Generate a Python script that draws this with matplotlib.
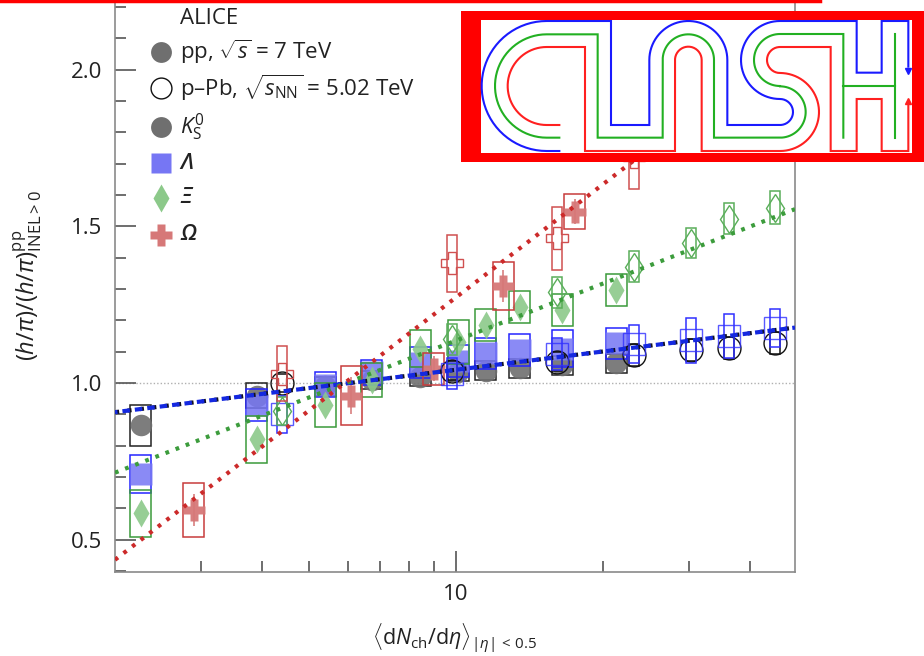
import numpy as np
import matplotlib
matplotlib.use('Agg')
import matplotlib.pyplot as plt
from matplotlib.patches import Rectangle
from matplotlib.transforms import IdentityTransform
from matplotlib.ticker import FixedLocator, NullFormatter, FixedFormatter

plt.rcParams['font.family'] = ['Open Sans', 'DejaVu Sans']
plt.rcParams['mathtext.fontset'] = 'custom'
plt.rcParams['mathtext.rm'] = 'Open Sans'
plt.rcParams['mathtext.it'] = 'Open Sans:italic'
plt.rcParams['mathtext.bf'] = 'Open Sans:bold'

# ---------------- data ----------------
x_pp = [2.26, 3.90, 5.40, 6.72, 8.45, 10.1, 11.5, 13.5, 16.5, 21.3]
x_ppb = [4.4, 9.8, 16.1, 23.2, 30.3, 36.2, 45.0]
x_omega_pp = [2.9, 6.1, 9.0, 12.5, 17.5]
x_omega_ppb = [4.4, 9.8, 16.1, 23.2]

k0s_pp = [0.865, 0.96, 0.99, 1.01, 1.02, 1.035, 1.04, 1.047, 1.057, 1.063]
k0s_pp_sys = [0.065, 0.04, 0.03, 0.03, 0.03, 0.03, 0.03, 0.03, 0.03, 0.03]
lam_pp = [0.71, 0.93, 0.995, 1.035, 1.065, 1.07, 1.095, 1.105, 1.11, 1.127]
lam_pp_sys = [0.06, 0.05, 0.04, 0.04, 0.05, 0.05, 0.05, 0.05, 0.06, 0.05]
xi_pp = [0.585, 0.82, 0.93, 1.01, 1.11, 1.13, 1.185, 1.243, 1.233, 1.297]
xi_pp_sys = [0.075, 0.075, 0.07, 0.055, 0.06, 0.07, 0.05, 0.05, 0.05, 0.05]
om_pp = [0.595, 0.96, 1.045, 1.31, 1.547]
om_pp_sys = [0.085, 0.093, 0.05, 0.077, 0.055]
om_pp_stat = [0.05, 0.06, 0.04, 0.05, 0.04]

k0s_ppb = [1.0, 1.04, 1.068, 1.09, 1.105, 1.112, 1.128]
k0s_ppb_sys = [0.03, 0.03, 0.03, 0.035, 0.035, 0.035, 0.035]
lam_ppb = [0.90, 1.03, 1.093, 1.124, 1.137, 1.151, 1.175]
lam_ppb_sys = [0.06, 0.05, 0.05, 0.06, 0.072, 0.07, 0.061]
xi_ppb = [0.91, 1.14, 1.29, 1.371, 1.446, 1.525, 1.56]
xi_ppb_sys = [0.045, 0.05, 0.05, 0.05, 0.048, 0.05, 0.053]
om_ppb = [1.03, 1.382, 1.462, 1.72]
om_ppb_sys = [0.088, 0.09, 0.1, 0.1]

fit_x = [2.0, 49.5]
fit_k0s = [0.907, 1.177]
fit_lam = [0.907, 1.177]
fit_xi = [0.714, 1.555]
fit_om = [0.436, 2.106]

legend_labels = ['pp, $\\sqrt{s}$ = 7 TeV',
                 'p\u2013Pb, $\\sqrt{s_{\\mathrm{NN}}}$ = 5.02 TeV',
                 '$K^0_{\\mathrm{S}}$', '\u039b', '\u039e', '\u03a9']
legend_italic = [False, False, False, True, True, True]

# ---------------- figure ----------------
W, H = 924, 656
fig = plt.figure(figsize=(W / 100, H / 100), dpi=100)
ax = fig.add_axes([115 / W, 84 / H, 680 / W, 572 / H])
ax.set_xscale('log')
ax.set_xlim(2.0, 49.5)
ax.set_ylim(0.397, 2.2225)

fill_c = {'k': '#6f6f6f', 'l': '#7676f4', 'x': '#8cc98a', 'o': '#d67878'}
edge_c = {'k': '#222222', 'l': '#2424ff', 'x': '#3a9a3a', 'o': '#c83c3c'}
open_c = {'k': '#111111', 'l': '#3030ff', 'x': '#5aae5a', 'o': '#d05050'}
wide_f = 10 ** (10.5 / 488)
narrow_f = 10 ** (5.0 / 488)


def boxes(xs, ys, es, f, color, lw=1.1, z=3):
    for xv, yv, ev in zip(xs, ys, es):
        ax.add_patch(Rectangle((xv / f, yv - ev), xv * f - xv / f, 2 * ev,
                               fill=False, edgecolor=color, lw=lw, zorder=z))


ax.axhline(1.0, color='#b0b0b0', lw=1.0, ls=(0, (1, 1.5)), zorder=1)

# pp (filled)
boxes(x_pp, k0s_pp, k0s_pp_sys, wide_f, edge_c['k'])
ax.plot(x_pp, k0s_pp, 'o', ms=15.5, color=fill_c['k'], mec='none', alpha=0.9, zorder=3)
boxes(x_pp, lam_pp, lam_pp_sys, wide_f, edge_c['l'])
ax.plot(x_pp, lam_pp, 's', ms=15.5, color=fill_c['l'], mec='none', alpha=0.85, zorder=3)
boxes(x_pp, xi_pp, xi_pp_sys, wide_f, edge_c['x'])
ax.plot(x_pp, xi_pp, 'd', ms=14, color=fill_c['x'], mec='none', alpha=0.9, zorder=3)
boxes(x_omega_pp, om_pp, om_pp_sys, wide_f, edge_c['o'])
ax.errorbar(x_omega_pp, om_pp, yerr=om_pp_stat, fmt='P', ms=16, color=fill_c['o'],
            mec='none', ecolor=fill_c['o'], elinewidth=1.2, capsize=0, alpha=0.95, zorder=3)

# p-Pb (open)
boxes(x_ppb, k0s_ppb, k0s_ppb_sys, narrow_f, open_c['k'], z=4)
ax.plot(x_ppb, k0s_ppb, 'o', ms=16.5, mfc='none', mec=open_c['k'], mew=1.0, zorder=4)
boxes(x_ppb, lam_ppb, lam_ppb_sys, narrow_f, open_c['l'], z=4)
ax.plot(x_ppb, lam_ppb, 's', ms=16, mfc='none', mec=open_c['l'], mew=1.0, alpha=0.8, zorder=4)
boxes(x_ppb, xi_ppb, xi_ppb_sys, narrow_f, open_c['x'], z=4)
ax.plot(x_ppb, xi_ppb, 'd', ms=14.5, mfc='none', mec=open_c['x'], mew=1.0, zorder=4)
boxes(x_omega_ppb, om_ppb, om_ppb_sys, narrow_f, open_c['o'], z=4)
ax.plot(x_omega_ppb, om_ppb, 'P', ms=16, mfc='none', mec=open_c['o'], mew=1.0, zorder=4)

# fits
ax.plot(fit_x, fit_k0s, color='#111122', lw=3.0, ls=(0, (1.0, 2.0)), zorder=6)
ax.plot(fit_x, fit_lam, color='#1428e0', lw=3.0, ls=(1.2, (1.8, 1.2)), zorder=6)
ax.plot(fit_x, fit_xi, color='#3c9c3c', lw=3.0, ls=(0, (0.9, 1.7)), zorder=6)
ax.plot(fit_x, fit_om, color='#cc2a2a', lw=3.0, ls=(0, (0.9, 1.7)), zorder=6)

# axes style
for s in ['left', 'bottom', 'right']:
    ax.spines[s].set_color('#8a8a8a')
    ax.spines[s].set_linewidth(1.2)
ax.spines['top'].set_visible(False)

ax.xaxis.set_major_locator(FixedLocator([10]))
ax.xaxis.set_major_formatter(FixedFormatter(['10']))
ax.xaxis.set_minor_locator(FixedLocator([3, 4, 5, 6, 7, 8, 9, 20, 30, 40]))
ax.xaxis.set_minor_formatter(NullFormatter())
ax.yaxis.set_major_locator(FixedLocator([0.5, 1.0, 1.5, 2.0]))
ax.yaxis.set_major_formatter(FixedFormatter(['0.5', '1.0', '1.5', '2.0']))
ax.yaxis.set_minor_locator(FixedLocator(np.arange(0.4, 2.25, 0.1)))
ax.tick_params(which='both', direction='in', color='#555555', width=1.2,
               labelsize=16, labelcolor='#222222', right=False, top=False)
ax.tick_params(which='major', length=15, pad=9)
ax.tick_params(which='minor', length=8)

ax.set_xlabel('$\\langle \\mathrm{d}N_{\\mathrm{ch}}/\\mathrm{d}\\eta\\rangle_{|\\eta|\\,<\\,0.5}$',
              fontsize=15.5, color='#222222')
ax.xaxis.set_label_coords(0.5, -0.086)
ax.set_ylabel('$(h/\\pi)/(h/\\pi)^{\\mathrm{pp}}_{\\mathrm{INEL}>0}$', fontsize=17, color='#222222')
ax.yaxis.set_label_coords(-0.105, 0.518)

# legend (manual)
idt = IdentityTransform()
fig.text(180 / W, 1 - 18 / H, 'ALICE', fontsize=16, color='#222222', va='center', ha='left')
leg_y = [52, 88, 127, 163, 198, 235]
leg_style = [dict(marker='o', ms=15, color=fill_c['k'], mec='none'),
             dict(marker='o', ms=15, mfc='white', mec='#111111', mew=1.0),
             dict(marker='o', ms=15, color=fill_c['k'], mec='none'),
             dict(marker='s', ms=15, color=fill_c['l'], mec='none'),
             dict(marker='d', ms=14, color=fill_c['x'], mec='none'),
             dict(marker='P', ms=16, color=fill_c['o'], mec='none')]
for yy, lab, st, it in zip(leg_y, legend_labels, leg_style, legend_italic):
    fig.lines.append(plt.Line2D([161 / W], [1 - yy / H], transform=fig.transFigure,
                                ls='none', **st))
    fig.text(180 / W, 1 - yy / H, lab, fontsize=16, color='#222222', va='center', ha='left',
             style='italic' if it else 'normal', weight='semibold' if it else 'normal')

# ---------------- decoration: top red line and CLASH logo ----------------
fig.lines.append(plt.Line2D([0, 820], [H - 1, H - 1], transform=idt, color='#ff0000', lw=2.5))
fig.patches.append(Rectangle((461, H - 162), W - 461, 151, transform=idt,
                             facecolor='#ff0000', edgecolor='none', zorder=20))
fig.patches.append(Rectangle((481, H - 153), 431, 133, transform=idt,
                             facecolor='white', edgecolor='none', zorder=21))


def arc(cx, cy, r, a0, a1, n=40):
    t = np.radians(np.linspace(a0, a1, n))
    return list(zip(cx + r * np.cos(t), cy - r * np.sin(t)))


def draw(pts, color):
    p = np.array(pts, dtype=float)
    xs = 460 + p[:, 0] / 3
    ys = H - p[:, 1] / 3
    fig.lines.append(plt.Line2D(xs, ys, transform=idt, color=color, lw=1.5, zorder=22,
                                solid_joinstyle='miter'))


blue = '#1a1aff'
green = '#22b022'
red = '#ff2020'
draw([(298, 453), (260, 453)] + arc(260, 258, 195, 270, 90) +
     [(453, 63), (453, 375), (568, 375), (568, 180)] + arc(685, 180, 117, 180, 0) +
     [(802, 375), (960, 375)] + arc(960, 336, 39, -90, 90) + arc(960, 180, 117, 270, 90) +
     [(1190, 63), (1190, 218), (1265, 218), (1265, 63), (1345, 63), (1345, 200)], blue)
draw([(298, 413), (260, 413)] + arc(260, 258, 155, 270, 90) +
     [(413, 103), (413, 413), (608, 413), (608, 180)] + arc(685, 180, 77, 180, 0) +
     [(762, 413), (960, 413)] + arc(960, 336, 77, -90, 90) + arc(960, 180, 78, 270, 90) +
     [(1150, 102), (1150, 413)], green)
draw([(1150, 258), (1305, 258)], green)
draw([(1305, 102), (1305, 413)], green)
draw([(298, 375), (260, 375)] + arc(260, 258, 117, 270, 90) +
     [(375, 141), (375, 453), (645, 453), (645, 180)] + arc(685, 180, 40, 180, 0) +
     [(725, 453), (960, 453)] + arc(960, 336, 117, -90, 90) + arc(960, 180, 39, 270, 90) +
     [(1112, 141), (1112, 453), (1190, 453), (1190, 297), (1265, 297), (1265, 453),
      (1345, 453), (1345, 315)], red)
fig.lines.append(plt.Line2D([460 + 1345 / 3], [H - 213 / 3], transform=idt, marker='v',
                            ms=5, color=blue, ls='none', zorder=23))
fig.lines.append(plt.Line2D([460 + 1345 / 3], [H - 302 / 3], transform=idt, marker='^',
                            ms=5, color=red, ls='none', zorder=23))

fig.savefig('out.png', dpi=100)
